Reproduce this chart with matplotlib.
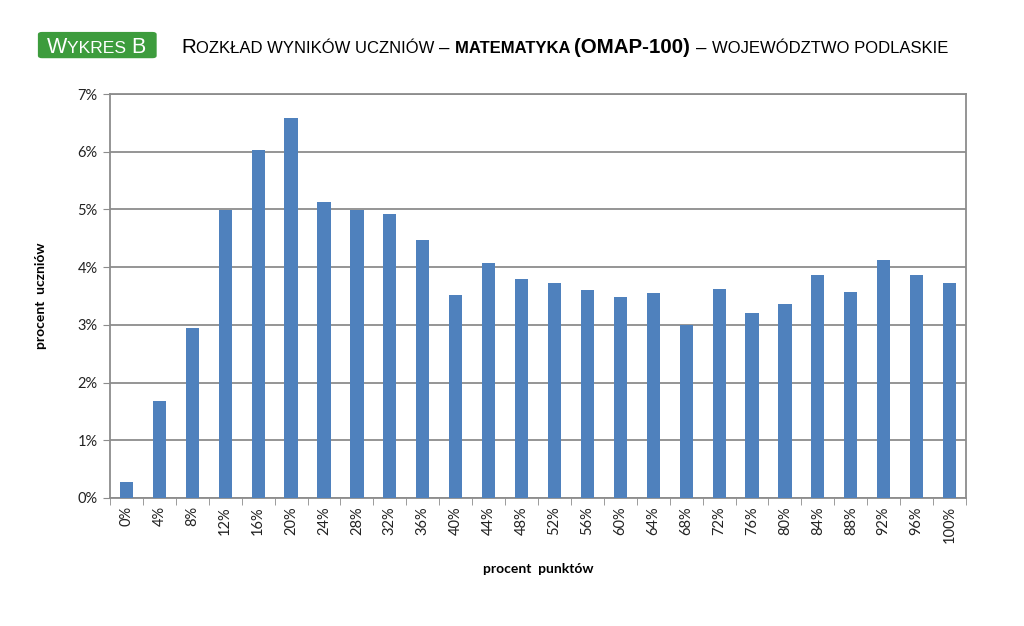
import matplotlib

matplotlib.use("Agg")
import matplotlib.pyplot as plt
from matplotlib.patches import FancyBboxPatch

# percent of points (categories) and percent of students
categories = [f"{p}%" for p in range(0, 101, 4)]
values = [0.28, 1.68, 2.95, 4.99, 6.03, 6.59, 5.13, 4.99, 4.92, 4.47,
          3.52, 4.07, 3.80, 3.73, 3.60, 3.48, 3.55, 3.00, 3.62, 3.21,
          3.36, 3.86, 3.57, 4.12, 3.86, 3.72]
y_ticks = [0, 1, 2, 3, 4, 5, 6, 7]

BAR_COLOR = "#4f81bd"
GRID_COLOR = "#8c8c8c"
AXIS_FONT = ["Lato", "DejaVu Sans"]
TITLE_FONT = ["Liberation Sans", "DejaVu Sans"]


def place_pieces(fig, x, y, pieces, color="black"):
    # draw a row of text pieces one after another (fake small caps)
    renderer = fig.canvas.get_renderer()
    inv = fig.transFigure.inverted()
    for text, size, weight in pieces:
        t = fig.text(x, y, text, fontsize=size, fontweight=weight,
                     family=TITLE_FONT, color=color, va="baseline", ha="left")
        bb = t.get_window_extent(renderer)
        x = inv.transform((bb.x1, bb.y0))[0]
    return x


def main() -> None:
    fig = plt.figure(figsize=(10.24, 6.26), dpi=100)
    ax = fig.add_axes([0.1074, 0.2045, 0.836, 0.6453])

    xs = list(range(len(categories)))
    ax.bar(xs, values, width=0.4, color=BAR_COLOR, zorder=3)

    ax.set_xlim(-0.5, len(categories) - 0.5)
    ax.set_ylim(0, 7)
    ax.set_yticks(y_ticks)
    ax.set_yticklabels([f"{v}%" for v in y_ticks], family=AXIS_FONT,
                       fontsize=10.5, color="#222222")
    ax.yaxis.grid(True, color=GRID_COLOR, linewidth=1.3, zorder=0)
    ax.tick_params(axis="y", length=5, color=GRID_COLOR, pad=4)

    ax.set_xticks(xs)
    ax.set_xticklabels(categories, rotation=90, family=AXIS_FONT,
                       fontsize=10.5, color="#222222")
    ax.tick_params(axis="x", length=0, pad=6)
    ax.set_xticks([i - 0.5 for i in range(len(categories) + 1)], minor=True)
    ax.tick_params(axis="x", which="minor", length=5, color=GRID_COLOR)

    for side in ["left", "right", "top", "bottom"]:
        ax.spines[side].set_color(GRID_COLOR)
        ax.spines[side].set_linewidth(1.3)

    ax.set_ylabel("procent  uczniów", family=AXIS_FONT, fontsize=10,
                  fontweight="bold", labelpad=22)
    ax.set_xlabel("procent  punktów", family=AXIS_FONT, fontsize=10,
                  fontweight="bold", labelpad=14)

    # green badge
    badge = FancyBboxPatch((0.037, 0.907), 0.116, 0.042,
                           boxstyle="round,pad=0,rounding_size=0.004",
                           transform=fig.transFigure, facecolor="#3d9c3d",
                           edgecolor="none")
    fig.patches.append(badge)
    place_pieces(fig, 0.046, 0.916,
                 [("W", 15.5, "normal"), ("YKRES ", 12.6, "normal"),
                  ("B", 15.5, "normal")], color="white")

    place_pieces(fig, 0.177, 0.916, [
        ("R", 14.8, "normal"),
        ("OZKŁAD WYNIKÓW UCZNIÓW ", 12, "normal"),
        ("– ", 13.5, "normal"),
        ("MATEMATYKA ", 12, "bold"),
        ("(OMAP-100) ", 14.8, "bold"),
        ("– ", 13.5, "normal"),
        ("WOJEWÓDZTWO PODLASKIE", 12, "normal"),
    ])

    fig.savefig("out.png", dpi=100)
    plt.close(fig)


if __name__ == "__main__":
    main()
